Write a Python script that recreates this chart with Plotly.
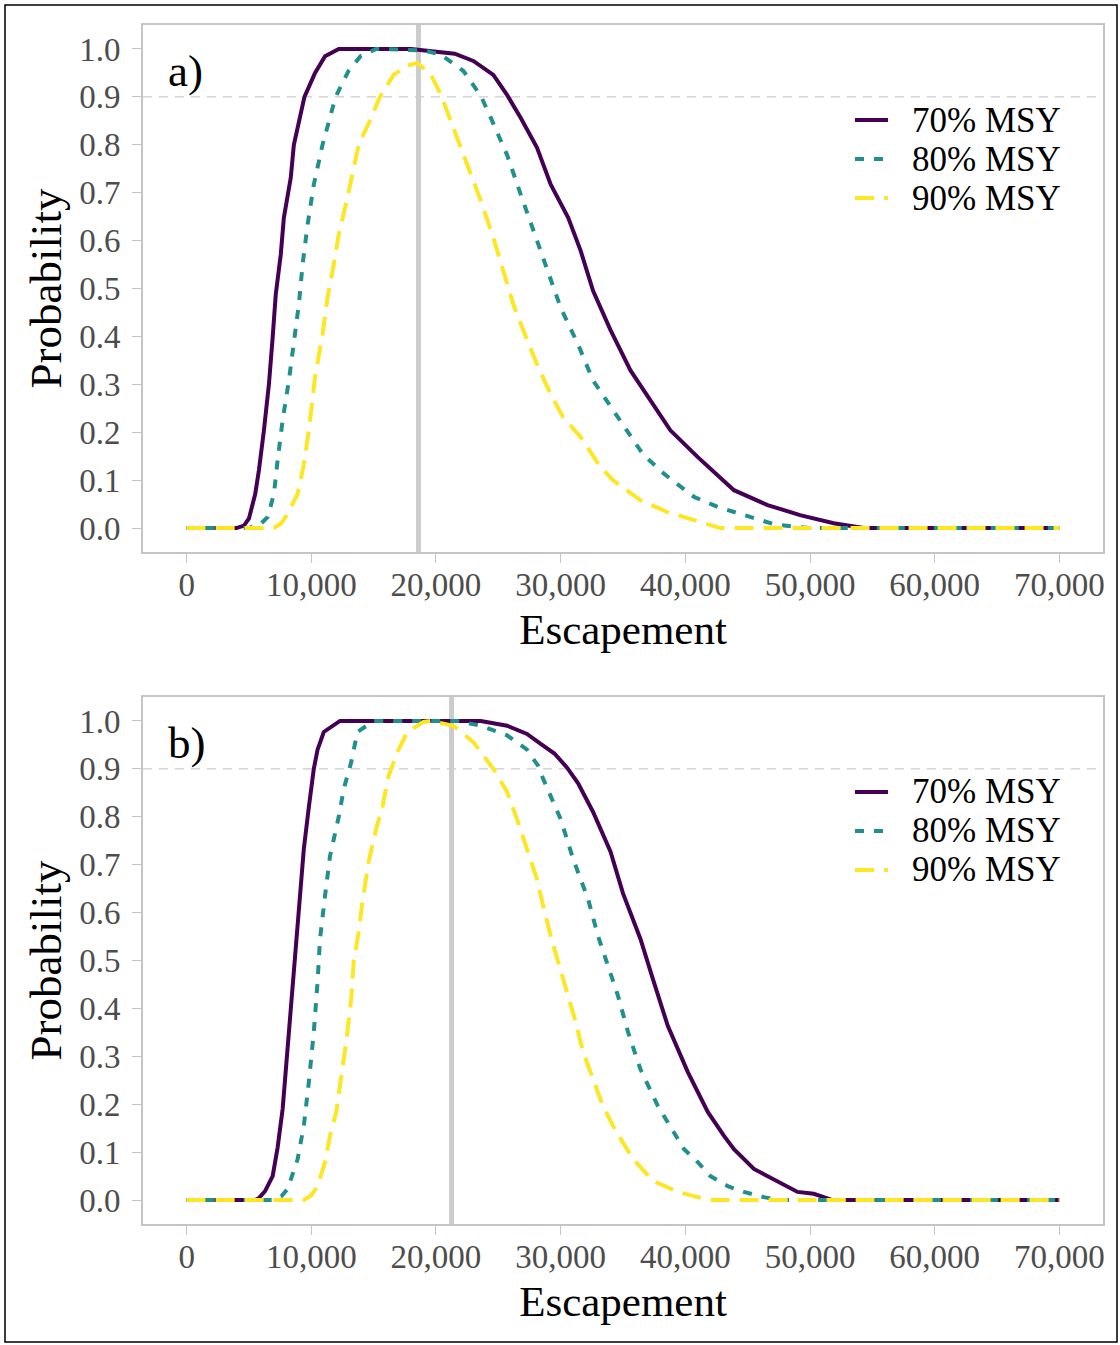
import plotly.graph_objects as go

# ---------------- data ----------------
# Panel a)
a70_x = [0, 4000, 4600, 5000, 5500, 5800, 6200, 6600, 6900, 7150, 7550, 7800, 8350, 8600, 9450, 10300, 11100, 12200,
         18000, 20000, 21500, 23000, 24600, 25700, 26800, 28100, 29200, 30600, 31600, 32600, 34000, 35600, 37400,
         38800, 41000, 42600, 43900, 46600, 49200, 51900, 53600, 54300, 70000]
a70_y = [0, 0, 0.005, 0.02, 0.071, 0.121, 0.204, 0.3, 0.398, 0.488, 0.571, 0.648, 0.731, 0.8, 0.9, 0.95, 0.985, 1.0,
         1.0, 0.995, 0.99, 0.975, 0.946, 0.904, 0.856, 0.794, 0.717, 0.648, 0.579, 0.495, 0.413, 0.329, 0.258,
         0.204, 0.148, 0.11, 0.079, 0.048, 0.027, 0.01, 0.004, 0, 0]

a80_x = [0, 5000, 5400, 6000, 6500, 7000, 7300, 7700, 8200, 8600, 9000, 9300, 9700, 10200, 10900, 11950, 13000,
         13950, 15200, 19000, 20400, 22200, 23600, 24400, 25700, 26800, 27800, 28900, 30000, 31400, 32600, 34600,
         36600, 38300, 40700, 42600, 45200, 47100, 48700, 50000, 70000]
a80_y = [0, 0, 0.004, 0.01, 0.023, 0.071, 0.142, 0.225, 0.308, 0.392, 0.467, 0.55, 0.633, 0.717, 0.8, 0.9, 0.955,
         0.985, 1.0, 0.997, 0.988, 0.954, 0.902, 0.856, 0.779, 0.696, 0.621, 0.538, 0.46, 0.383, 0.308, 0.231,
         0.154, 0.113, 0.065, 0.044, 0.023, 0.008, 0.003, 0, 0]

a90_x = [0, 7000, 7600, 8100, 8900, 9400, 9800, 10300, 10900, 11300, 11800, 12200, 12900, 13800, 14800, 15500,
         16600, 17700, 18500, 19600, 20400, 21400, 22500, 23600, 24600, 25400, 26200, 27000, 28100, 29200, 30200,
         31600, 33200, 34200, 36400, 38600, 41000, 42800, 70000]
a90_y = [0, 0, 0.01, 0.03, 0.071, 0.133, 0.204, 0.315, 0.404, 0.481, 0.55, 0.613, 0.69, 0.8, 0.856, 0.9,
         0.946, 0.965, 0.971, 0.946, 0.904, 0.835, 0.758, 0.683, 0.606, 0.538, 0.467, 0.413, 0.342, 0.279, 0.231,
         0.19, 0.127, 0.1, 0.058, 0.033, 0.013, 0, 0]

# Panel b)
b70_x = [0, 5500, 5800, 6300, 6900, 7300, 7700, 8100, 8340, 8600, 8900, 9140, 9400, 9800, 10200, 10500, 11000,
         12300, 23600, 25700, 27300, 28400, 29500, 30500, 31400, 32600, 34000, 35000, 36400, 37400, 38600, 40200,
         41800, 43100, 43900, 45500, 47400, 49000, 50300, 51100, 51800, 70000]
b70_y = [0, 0, 0.004, 0.019, 0.05, 0.11, 0.19, 0.315, 0.399, 0.489, 0.572, 0.664, 0.733, 0.82, 0.9, 0.94, 0.977,
         1.0, 1.0, 0.99, 0.973, 0.952, 0.932, 0.903, 0.87, 0.81, 0.727, 0.64, 0.545, 0.461, 0.363, 0.267,
         0.184, 0.134, 0.106, 0.065, 0.038, 0.017, 0.013, 0.006, 0, 0]

b80_x = [0, 7000, 7600, 8100, 8900, 9400, 9800, 10200, 10500, 10700, 11100, 11500, 12200, 12600, 13200, 13700,
         15000, 21700, 23600, 25700, 27300, 28200, 28600, 30000, 31000, 32200, 33000, 33800, 34600, 35400, 36400,
         37800, 38800, 39900, 41000, 42000, 43400, 44700, 46300, 47500, 70000]
b80_y = [0, 0, 0.008, 0.023, 0.085, 0.155, 0.246, 0.351, 0.455, 0.545, 0.635, 0.718, 0.8, 0.858, 0.914, 0.977,
         1.0, 1.0, 0.99, 0.97, 0.94, 0.906, 0.879, 0.795, 0.712, 0.628, 0.551, 0.489, 0.426, 0.351, 0.273,
         0.196, 0.152, 0.106, 0.079, 0.05, 0.029, 0.017, 0.006, 0, 0]

b90_x = [0, 9400, 10000, 10500, 11100, 11500, 12000, 12400, 12800, 13200, 13400, 13800, 14100, 14600, 15200,
         15700, 16200, 16900, 17700, 19000, 19600, 21400, 23000, 24600, 25700, 26500, 27300, 28100, 28600, 29200,
         29800, 30600, 31200, 31800, 32600, 33400, 34400, 35800, 37400, 39400, 41000, 42000, 70000]
b90_y = [0, 0, 0.01, 0.029, 0.079, 0.134, 0.184, 0.253, 0.33, 0.42, 0.497, 0.56, 0.622, 0.706, 0.775,
         0.82, 0.885, 0.935, 0.977, 0.998, 1.0, 0.99, 0.956, 0.9, 0.852, 0.795, 0.733, 0.67, 0.614, 0.551,
         0.497, 0.426, 0.372, 0.309, 0.253, 0.196, 0.145, 0.086, 0.04, 0.017, 0.006, 0, 0]

smsy = [18600, 21250]          # vertical reference lines (panel a, panel b)
target_prob = 0.9
series_names = ["70% MSY", "80% MSY", "90% MSY"]
panel_labels = ["a)", "b)"]
x_ticks = [0, 10000, 20000, 30000, 40000, 50000, 60000, 70000]
x_ticklabels = ["0", "10,000", "20,000", "30,000", "40,000", "50,000", "60,000", "70,000"]
y_ticks = [0.0, 0.1, 0.2, 0.3, 0.4, 0.5, 0.6, 0.7, 0.8, 0.9, 1.0]
y_ticklabels = ["0.0", "0.1", "0.2", "0.3", "0.4", "0.5", "0.6", "0.7", "0.8", "0.9", "1.0"]

# ---------------- styles ----------------
FONT = "Liberation Serif"
colors = ["#440154", "#21908C", "#FDE725"]
dashes = ["solid", "9px,10px", "19px,10px"]
LW = 4
W, H = 1120, 1345
ML, MR, MT, MB = 143, 17, 25, 121
plot_h = H - MT - MB
panel_h = 527
dom_b = [0, panel_h / plot_h]
dom_a = [1 - panel_h / plot_h, 1]

fig = go.Figure()

panels = [
    ("x", "y", [(a70_x, a70_y), (a80_x, a80_y), (a90_x, a90_y)]),
    ("x2", "y2", [(b70_x, b70_y), (b80_x, b80_y), (b90_x, b90_y)]),
]

for p, (xa, ya, series) in enumerate(panels):
    for i, (xs, ys) in enumerate(series):
        fig.add_trace(go.Scatter(
            x=xs, y=ys, mode="lines", name=series_names[i], showlegend=False,
            line=dict(color=colors[i], width=LW, dash=dashes[i]),
            xaxis=xa, yaxis=ya, hoverinfo="skip"))

axis_common = dict(
    showgrid=False, zeroline=False, showline=True, mirror=True,
    linecolor="#c4c4c4", linewidth=2, ticks="outside", ticklen=9, tickwidth=1,
    tickcolor="#c4c4c4", tickfont=dict(family=FONT, size=33, color="#4d4d4d"),
    automargin=False,
)

xtitle = dict(text="Escapement", font=dict(family=FONT, size=43, color="black"), standoff=12)
ytitle = dict(text="Probability", font=dict(family=FONT, size=45, color="black"), standoff=3)

fig.update_layout(
    width=W, height=H, margin=dict(l=ML, r=MR, t=MT, b=MB),
    paper_bgcolor="white", plot_bgcolor="white", showlegend=False,
    font=dict(family=FONT),
    xaxis=dict(domain=[0, 1], anchor="y", range=[-3500, 73500], tickvals=x_ticks, ticktext=x_ticklabels,
               ticklabelstandoff=-7, title=xtitle, **axis_common),
    yaxis=dict(domain=dom_a, anchor="x", range=[-0.05, 1.05], tickvals=y_ticks, ticktext=y_ticklabels,
               ticklabelstandoff=5, title=ytitle, **axis_common),
    xaxis2=dict(domain=[0, 1], anchor="y2", range=[-3500, 73500], tickvals=x_ticks, ticktext=x_ticklabels,
                ticklabelstandoff=-7, title=xtitle, **axis_common),
    yaxis2=dict(domain=dom_b, anchor="x2", range=[-0.05, 1.05], tickvals=y_ticks, ticktext=y_ticklabels,
                ticklabelstandoff=5, title=ytitle, **axis_common),
)

# reference lines, labels, legend
for p, (xa, ya, _) in enumerate(panels):
    fig.add_shape(type="line", xref=xa, yref=f"{ya} domain", x0=smsy[p], x1=smsy[p], y0=0, y1=1,
                  line=dict(color="#cccccc", width=5), layer="below")
    fig.add_shape(type="line", xref=f"{xa} domain", yref=ya, x0=0, x1=1, y0=target_prob, y1=target_prob,
                  line=dict(color="#cccccc", width=1.2, dash="9px,7px"), layer="below")
    fig.add_annotation(xref=f"{xa} domain", yref=f"{ya} domain", x=(166 - ML) / 960, y=481 / 527,
                       text=panel_labels[p], showarrow=False, xanchor="left", yanchor="middle",
                       font=dict(family=FONT, size=45, color="black"))
    for i in range(3):
        yd = (432 - 39 * i) / 527
        fig.add_shape(type="line", xref=f"{xa} domain", yref=f"{ya} domain",
                      x0=(855 - ML) / 960, x1=(888 - ML) / 960, y0=yd, y1=yd,
                      line=dict(color=colors[i], width=LW, dash=dashes[i]))
        fig.add_annotation(xref=f"{xa} domain", yref=f"{ya} domain", x=(910 - ML) / 960, y=yd,
                           text=series_names[i], showarrow=False, xanchor="left", yanchor="middle",
                           font=dict(family=FONT, size=35, color="black"))

# outer border
fig.add_shape(type="rect", xref="paper", yref="paper",
              x0=(5 - ML) / 960, x1=(1117 - ML) / 960,
              y0=(H - MB - 1342) / plot_h, y1=(H - MB - 5) / plot_h,
              line=dict(color="black", width=1.5), fillcolor="rgba(0,0,0,0)", layer="below")

fig.write_html("out.html")
